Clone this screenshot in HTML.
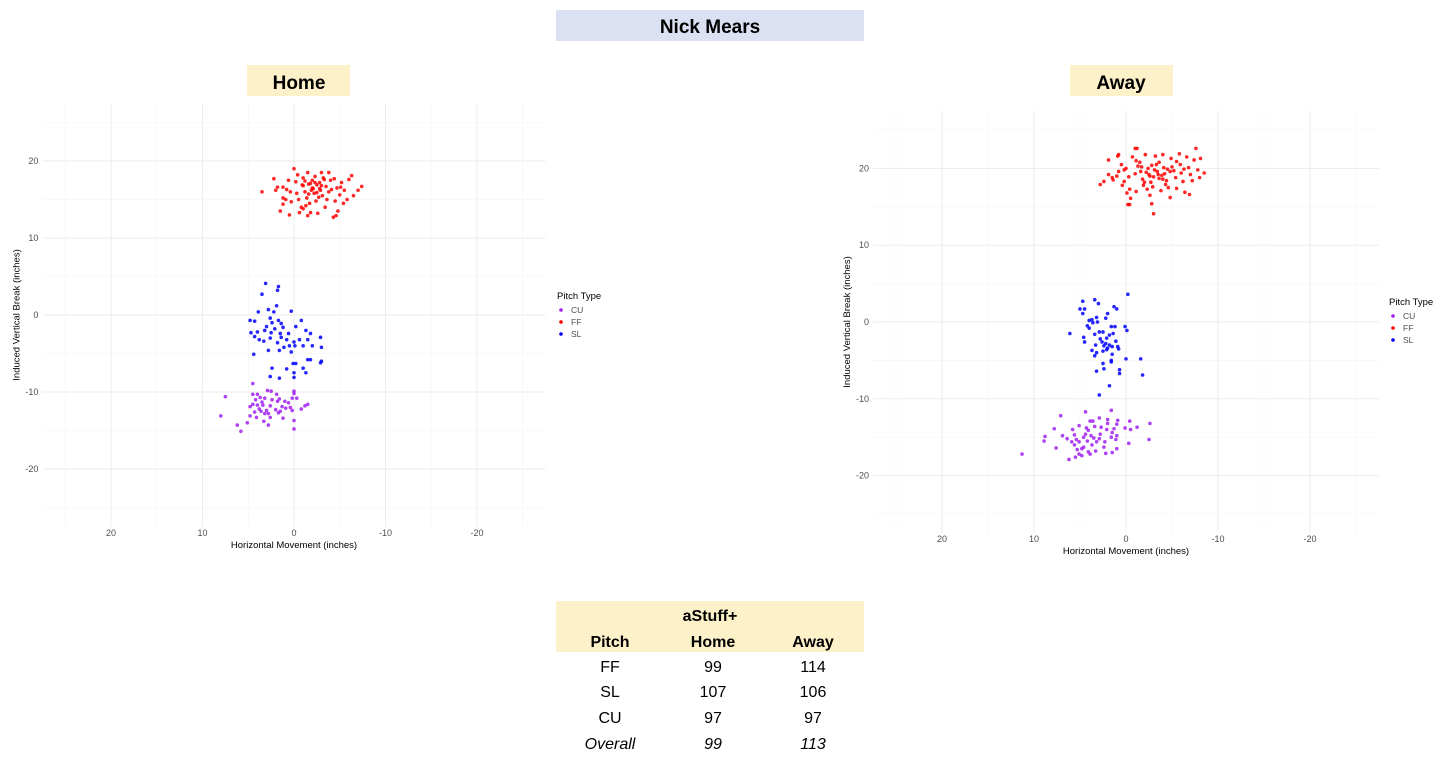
<!DOCTYPE html>
<html><head><meta charset="utf-8">
<style>
html,body{margin:0;padding:0;background:#fff;width:1456px;height:767px;overflow:hidden;font-family:"Liberation Sans",sans-serif;}
svg{position:absolute;left:0;top:0;}
.tick{font-size:9px;fill:#4d4d4d;font-family:"Liberation Sans",sans-serif;}
.ttl{font-size:9.5px;fill:#000;font-family:"Liberation Sans",sans-serif;}
.box{font-family:"Liberation Sans",sans-serif;}
</style></head>
<body>
<svg id="chart" width="1456" height="767" xmlns="http://www.w3.org/2000/svg">
  <rect x="556" y="10" width="308" height="31" fill="#dbe1f2"/>
  <text x="710" y="33" text-anchor="middle" font-size="19" font-weight="bold" class="box">Nick Mears</text>
  <rect x="247" y="65" width="103" height="31" fill="#fdf1c9"/>
  <text x="299" y="89" text-anchor="middle" font-size="19" font-weight="bold" class="box">Home</text>
  <rect x="1070" y="65" width="103" height="31" fill="#fdf1c9"/>
  <text x="1121" y="89" text-anchor="middle" font-size="19" font-weight="bold" class="box">Away</text>
  <g id="home"></g>
  <g id="away"></g>
  <g class="box">
    <rect x="556" y="601" width="308" height="51" fill="#fdf1c9"/>
    <text x="710" y="621" text-anchor="middle" font-size="16" font-weight="bold">aStuff+</text>
    <text x="610" y="647" text-anchor="middle" font-size="16" font-weight="bold">Pitch</text>
    <text x="713" y="647" text-anchor="middle" font-size="16" font-weight="bold">Home</text>
    <text x="813" y="647" text-anchor="middle" font-size="16" font-weight="bold">Away</text>
    <g font-size="16" text-anchor="middle">
      <text x="610" y="672">FF</text><text x="713" y="672">99</text><text x="813" y="672">114</text>
      <text x="610" y="697">SL</text><text x="713" y="697">107</text><text x="813" y="697">106</text>
      <text x="610" y="723">CU</text><text x="713" y="723">97</text><text x="813" y="723">97</text>
      <text x="610" y="749" font-style="italic">Overall</text><text x="713" y="749" font-style="italic">99</text><text x="813" y="749" font-style="italic">113</text>
    </g>
  </g>
</svg>
<script>
const xTicks=[20,10,0,-10,-20];
const yTicks=[20,10,0,-10,-20];
const pitchTypes=["CU","FF","SL"];
const colors={CU:"#a020f0",FF:"#ff0000",SL:"#0000ff"};
const homeFF=[[3.5,16],[2.2,17.7],[1.8,16.6],[1.2,16.6],[1.2,15.2],[1.2,14.4],[0.6,17.5],[0.4,16],[0,19],[-0.2,17.3],[-0.4,18.2],[-0.5,15],[-0.6,13.3],[0.5,13],[-0.8,14],[-1,16.8],[-1,17.8],[-1.2,16],[-1.4,15.2],[-1.5,18.5],[-1.6,17],[-1.7,14.5],[-1.8,13.3],[-2,16.5],[-2,17.5],[-2.2,15.8],[-2.3,18],[-2.4,14.8],[-2.5,16.9],[-2.6,13.2],[-2.8,17.2],[-2.9,16.2],[-3,18.5],[-3.1,15.5],[-3.3,17.6],[-3.4,14],[-3.5,16.7],[-3.6,15],[-3.8,18.5],[-4,17.5],[-4.1,16.3],[-4.3,12.7],[-4.5,14.8],[-4.7,16.5],[-4.8,13.5],[-5,15.6],[-5.2,17.2],[-5.4,14.5],[-5.5,16.2],[-5.8,15],[-6,17.6],[-6.3,18.1],[-6.5,15.5],[-7,16.2],[-7.4,16.7],[-4.6,12.9],[-1,13.8],[-0.3,15.8],[0.8,16.3],[1.5,13.5],[-2.7,15.3],[-3.8,16],[-1.8,17.1],[-2.1,16.4],[-2.5,15.9],[-0.9,16.9],[-1.3,14.2],[-3.2,17.8],[0.3,14.7],[-5.1,16.6],[-4.4,17.7],[-1.5,12.9],[2,16.2],[0.9,15],[-1.9,16.2],[-2.3,17.2],[-3,16.8],[-1.2,17.4],[-2.8,16.4],[-1.6,15.7]];
const homeSL=[[3.1,4.1],[1.7,3.7],[1.8,3.2],[3.5,2.7],[1.9,1.2],[2.8,0.7],[2.2,0.4],[3.9,0.4],[0.3,0.5],[4.8,-0.7],[4.3,-0.8],[2.6,-0.4],[2.4,-1],[1.7,-0.7],[1.4,-1.1],[-0.8,-0.7],[3,-1.5],[2.1,-1.8],[1.2,-1.6],[-0.2,-1.5],[4.7,-2.3],[4,-2.2],[3.2,-2],[2.5,-2.3],[1.5,-2.4],[0.6,-2.4],[-1.3,-2],[-1.8,-2.4],[4.3,-2.8],[3.8,-3.2],[2.6,-3],[1.4,-2.9],[0.8,-3.2],[0,-3.5],[-0.6,-3.2],[-1.5,-3.2],[-2.9,-2.9],[3.3,-3.4],[1.8,-3.6],[0.5,-4],[-0.1,-4],[-1,-4],[-2,-4],[-3,-4.2],[4.4,-5.1],[2.8,-4.6],[1.6,-4.6],[1.1,-4.2],[0.3,-4.8],[-1.5,-5.8],[-1.8,-5.8],[-3,-6],[-2.9,-6.2],[2.4,-6.9],[0.8,-7],[0.1,-6.3],[-0.2,-6.3],[-1,-6.9],[-1.3,-7.5],[0,-7.5],[0,-8.1],[2.6,-8],[1.6,-8.2]];
const homeCU=[[4.5,-8.9],[7.5,-10.6],[4.5,-10.3],[4,-10.3],[2.9,-9.8],[2.5,-9.9],[0,-9.9],[0,-10.2],[3.7,-10.7],[3.2,-10.8],[1.9,-10.3],[1.6,-10.9],[0.2,-10.8],[-0.3,-10.8],[4.2,-11],[3.5,-11.3],[2.4,-11],[1.8,-11.2],[1,-11.2],[0.6,-11.4],[4.5,-11.6],[4,-11.7],[3.4,-11.7],[2.6,-11.8],[1.3,-11.9],[0.4,-12],[-1.2,-11.8],[-1.5,-11.6],[4.8,-11.9],[3.8,-12.2],[3,-12.4],[2,-12.3],[0.9,-12.1],[0.2,-12.4],[-0.8,-12.2],[4.3,-12.6],[3.6,-12.5],[3.2,-12.8],[2.8,-12.8],[1.7,-12.7],[4.8,-13.1],[4.1,-13.3],[2.6,-13.3],[1.2,-13.4],[8,-13.1],[5.1,-14],[6.2,-14.3],[2.8,-14.3],[0,-13.7],[0,-14.8],[5.8,-15.1],[3.3,-13.8],[1.5,-12.5]];
const awayFF=[[2.8,17.9],[2.4,18.3],[1.5,18.8],[1.4,18.5],[1.9,19.2],[1,19],[0.8,19.6],[1.9,21.1],[0.9,21.6],[0.8,21.8],[0.5,20.5],[0.2,19.8],[0,20],[-0.3,18.9],[-0.4,17.3],[-0.5,16.1],[-0.2,15.3],[-0.4,15.3],[0.2,18.3],[0.4,17.8],[-0.7,21.5],[-1,22.6],[-1.2,22.6],[-1.1,21],[-1.3,20.3],[-1.6,19.6],[-1.8,18.6],[-1.9,17.8],[-2.1,21.8],[-2.4,20],[-2.5,19.2],[-2.7,18.2],[-2.9,17.6],[-2.6,16.5],[-2.8,15.4],[-3,14.1],[-3.2,21.6],[-3.3,20.5],[-3.4,19.6],[-3.6,18.7],[-3.8,17.1],[-4,21.8],[-4.1,20.1],[-4.2,19.3],[-4.4,18.4],[-4.6,17.5],[-4.8,16.2],[-4.9,21.3],[-5,20.2],[-5.2,19.7],[-5.4,18.8],[-5.5,17.4],[-5.8,21.9],[-5.9,20.5],[-6,19.4],[-6.2,18.3],[-6.4,16.9],[-6.6,21.5],[-6.8,20.1],[-7,19.2],[-7.2,18.4],[-7.4,21.1],[-7.6,22.6],[-7.8,19.8],[-8.1,21.3],[-8.5,19.4],[-8,18.8],[-6.9,16.6],[-3.5,19.2],[-2.2,19.5],[-4.5,19.9],[-3,18.9],[-1.5,20.8],[-5.5,20.9],[-2,18.2],[-4.3,17.9],[-2.8,20.4],[-3.9,19.1],[-6.3,19.9],[-1,19.3],[-1.1,17],[-0.1,16.8],[-4.8,19.6],[-3.6,20.8],[-2.3,17.3],[-3.1,19.8],[-2.6,19],[-4,18.6],[-1.7,20.2]];
const awaySL=[[-0.2,3.6],[4.7,2.7],[3.4,2.9],[3,2.4],[1.3,2],[1,1.7],[5,1.7],[4.5,1.7],[2,1.1],[4.7,1.1],[3.2,0.6],[2.2,0.5],[3.7,0.3],[4,0.2],[3.1,0],[4.2,-0.5],[3.6,-0.1],[1.6,-0.6],[1.2,-0.6],[0.1,-0.6],[-0.1,-1.1],[4,-0.8],[6.1,-1.5],[3.4,-1.6],[2.9,-1.3],[2.5,-1.3],[1.8,-1.7],[1.4,-1.5],[4.6,-2],[2.1,-2.1],[4.5,-2.6],[2.6,-2.6],[2.2,-2.8],[1.1,-2.5],[0.9,-3.2],[2.4,-3.1],[3.3,-3],[2,-3.4],[2.1,-3.6],[1.5,-3.2],[3.7,-3.7],[3.2,-4],[2.5,-3.8],[0.8,-3.5],[1.5,-4.2],[3.4,-4.4],[1.6,-5],[1.6,-5.2],[0,-4.8],[-1.6,-4.8],[2.5,-5.4],[2.4,-6.1],[3.2,-6.4],[0.7,-6.2],[0.7,-6.7],[-1.8,-6.9],[1.8,-8.3],[2.9,-9.5],[1.8,-3],[2.8,-2.2]];
const awayCU=[[4.4,-11.7],[1.6,-11.5],[7.1,-12.2],[2.9,-12.5],[2,-12.7],[0.9,-12.8],[-0.4,-12.9],[3.9,-12.9],[3.6,-12.9],[2,-13.2],[1,-13.3],[-2.6,-13.2],[7.8,-13.9],[5.1,-13.5],[4.3,-13.8],[4.1,-14.1],[3.4,-13.6],[2.7,-13.7],[2.1,-14],[1.3,-13.9],[0.1,-13.8],[-0.5,-14],[-1.2,-13.7],[5.8,-14],[8.8,-14.9],[6.9,-14.8],[5.6,-14.7],[4.4,-14.6],[3.8,-14.8],[2.8,-14.6],[1.5,-14.4],[1,-14.8],[6.4,-15.2],[5.4,-15.3],[4.6,-15],[3.5,-15.1],[2.9,-15.2],[1.6,-15],[8.9,-15.5],[5.9,-15.6],[5.1,-15.6],[4.2,-15.5],[3.2,-15.6],[2.3,-15.6],[1.1,-15.3],[-2.5,-15.3],[-0.3,-15.8],[5.6,-16],[4.6,-16.3],[3.7,-16],[2.4,-16.3],[7.6,-16.4],[5.3,-16.6],[4.8,-16.5],[1,-16.5],[4.1,-16.9],[3.3,-16.8],[2.2,-17.1],[1.5,-17],[5.1,-17.2],[4.8,-17.4],[5.5,-17.6],[11.3,-17.2],[6.2,-17.9],[3.9,-17.2]];

const NS="http://www.w3.org/2000/svg";
function mk(tag,attrs,parent){const e=document.createElementNS(NS,tag);for(const k in attrs)e.setAttribute(k,attrs[k]);parent.appendChild(e);return e;}

function drawChart(g,cfg,series){
  const sx=v=>cfg.x0-v*cfg.kx;
  const sy=v=>cfg.y0-v*cfg.ky;
  const L=sx(27.5),R=sx(-27.5),T=sy(27.5),B=sy(-27.5);
  for(let v=-25;v<=25;v+=5){
    const major=v%10===0;
    const c=major?"#ebebeb":"#f4f4f4";
    const h=mk("line",{x1:L,x2:R,y1:sy(v),y2:sy(v),stroke:c,"stroke-width":major?0.9:0.6},g);
    
    
    const vl=mk("line",{x1:sx(v),x2:sx(v),y1:T,y2:B,stroke:c,"stroke-width":major?0.9:0.6},g);
    
    
  }
  xTicks.forEach(t=>{
    const e=mk("text",{x:sx(t),y:B+9,"text-anchor":"middle",class:"tick"},g);e.textContent=t;
    
    
  });
  yTicks.forEach(t=>{
    const e=mk("text",{x:L-4,y:sy(t)+3,"text-anchor":"end",class:"tick"},g);e.textContent=t;
    
    
  });
  const xt=mk("text",{x:cfg.x0,y:B+21,"text-anchor":"middle",class:"ttl"},g);xt.textContent="Horizontal Movement (inches)";
  
  
  const yt=mk("text",{x:0,y:0,"text-anchor":"middle",class:"ttl",transform:`translate(${L-23},${cfg.y0}) rotate(-90)`},g);yt.textContent="Induced Vertical Break (inches)";
  
  
  ["CU","SL","FF"].forEach(p=>{
    series[p].forEach(d=>{
      const c=mk("circle",{cx:sx(d[0]),cy:sy(d[1]),r:1.8,fill:colors[p],"fill-opacity":0.85},g);
      
      
    });
  });
  const lt=mk("text",{x:cfg.lx,y:cfg.ly,class:"ttl"},g);lt.textContent="Pitch Type";
  
  
  pitchTypes.forEach((p,i)=>{
    const yy=cfg.ly+14+i*12;
    const c=mk("circle",{cx:cfg.lx+4,cy:yy-3,r:1.8,fill:colors[p]},g);
    
    
    const t=mk("text",{x:cfg.lx+14,y:yy,class:"tick",style:"font-size:8.5px"},g);t.textContent=p;
    
    
  });
}
drawChart(document.getElementById("home"),{x0:294,kx:9.15,y0:315,ky:7.7,lx:557,ly:299},{FF:homeFF,SL:homeSL,CU:homeCU});
drawChart(document.getElementById("away"),{x0:1126,kx:9.2,y0:322,ky:7.68,lx:1389,ly:305},{FF:awayFF,SL:awaySL,CU:awayCU});
</script>
</body></html>
